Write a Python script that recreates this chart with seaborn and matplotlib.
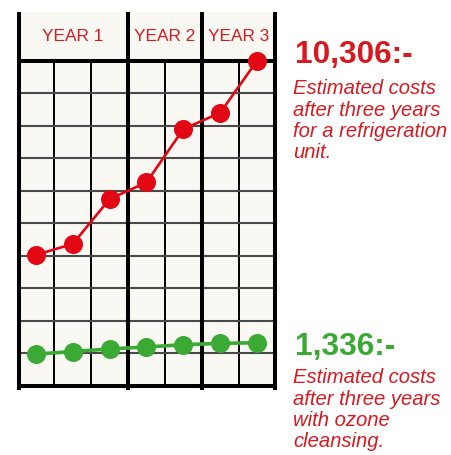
import matplotlib
matplotlib.use("Agg")
import matplotlib.pyplot as plt
import numpy as np
import pandas as pd
import seaborn as sns

# ---- data ----
periods = [1, 2, 3, 4, 5, 6, 7]
refrigeration = [4.03, 4.37, 5.75, 6.26, 7.90, 8.40, 10.0]
ozone = [0.98, 1.06, 1.14, 1.20, 1.27, 1.31, 1.33]
year_labels = ["YEAR 1", "YEAR 2", "YEAR 3"]
periods_per_year = [3, 2, 2]
grid_levels = list(range(0, 11))
refrig_total = "10,306:-"
ozone_total = "1,336:-"
refrig_note = ["Estimated costs", "after three years", "for a refrigeration", "unit."]
ozone_note = ["Estimated costs", "after three years", "with ozone", "cleansing."]

RED_TXT = "#D71920"
RED = "#E30613"
GREEN = "#3AAA35"
BG = "#F9F8F3"

sns.set_style("white")
plt.rcParams["font.family"] = ["Liberation Sans", "DejaVu Sans"]

fig = plt.figure(figsize=(4.51, 4.56), dpi=100)
fig.patch.set_facecolor("white")
ax = fig.add_axes([19.4 / 451, 1 - 387 / 456, 256 / 451, 374 / 456])
ax.set_facecolor(BG)

df_r = pd.DataFrame({"period": periods, "cost": refrigeration})
df_g = pd.DataFrame({"period": periods, "cost": ozone})

xmin, xmax = 0.55, 7.5
ymax = 11.5
ax.set_xlim(xmin, xmax)
ax.set_ylim(0, ymax)

# grid
bounds = np.cumsum([0.5] + periods_per_year)  # 0.5, 3.5, 5.5, 7.5
thin_x = [p + 0.5 for p in periods[:-1] if (p + 0.5) not in bounds]
ax.vlines(thin_x, 0, grid_levels[-1], color="black", lw=1.4, zorder=1)
ax.hlines(grid_levels[1:-1], xmin, xmax, color="#4a4a4a", lw=1.5, zorder=1)
ax.hlines([grid_levels[0], grid_levels[-1]], xmin, xmax, color="black", lw=2.9,
          zorder=1.5, clip_on=False)
ax.vlines([xmin] + list(bounds[1:-1]) + [xmax], -0.12, ymax, color="black", lw=2.9,
          zorder=1.5, clip_on=False)

# data
sns.lineplot(data=df_r, x="period", y="cost", color=RED, marker="o",
             markersize=13.7, markeredgewidth=0, linewidth=1.9, ax=ax, zorder=3)
sns.lineplot(data=df_g, x="period", y="cost", color=GREEN, marker="o",
             markersize=13.7, markeredgewidth=0, linewidth=2.6, ax=ax, zorder=3)

# year headers
for lab, lo, hi in zip(year_labels, bounds[:-1], bounds[1:]):
    ax.text((lo + hi) / 2, 10.78, lab, ha="center", va="center",
            fontsize=12.4, color=RED_TXT)

for s in ax.spines.values():
    s.set_visible(False)
ax.set_xticks([])
ax.set_yticks([])
ax.set_xlabel("")
ax.set_ylabel("")

# annotations on the right
def fy(px):
    return 1 - px / 456

fig.text(295 / 451, fy(62.7), refrig_total, fontsize=22.8, fontweight="bold",
         color=RED_TXT, va="baseline", ha="left")
for txt, b in zip(refrig_note, [94, 115.7, 136.7, 157.5]):
    fig.text(293 / 451, fy(b), txt, fontsize=14.6, style="italic",
             color=RED_TXT, va="baseline", ha="left")

fig.text(295 / 451, fy(355), ozone_total, fontsize=22.8, fontweight="bold",
         color=GREEN, va="baseline", ha="left")
for txt, b in zip(ozone_note, [383, 405, 426, 447]):
    fig.text(293 / 451, fy(b), txt, fontsize=14.6, style="italic",
             color=RED_TXT, va="baseline", ha="left")

fig.savefig("out.png", dpi=100, facecolor="white")
